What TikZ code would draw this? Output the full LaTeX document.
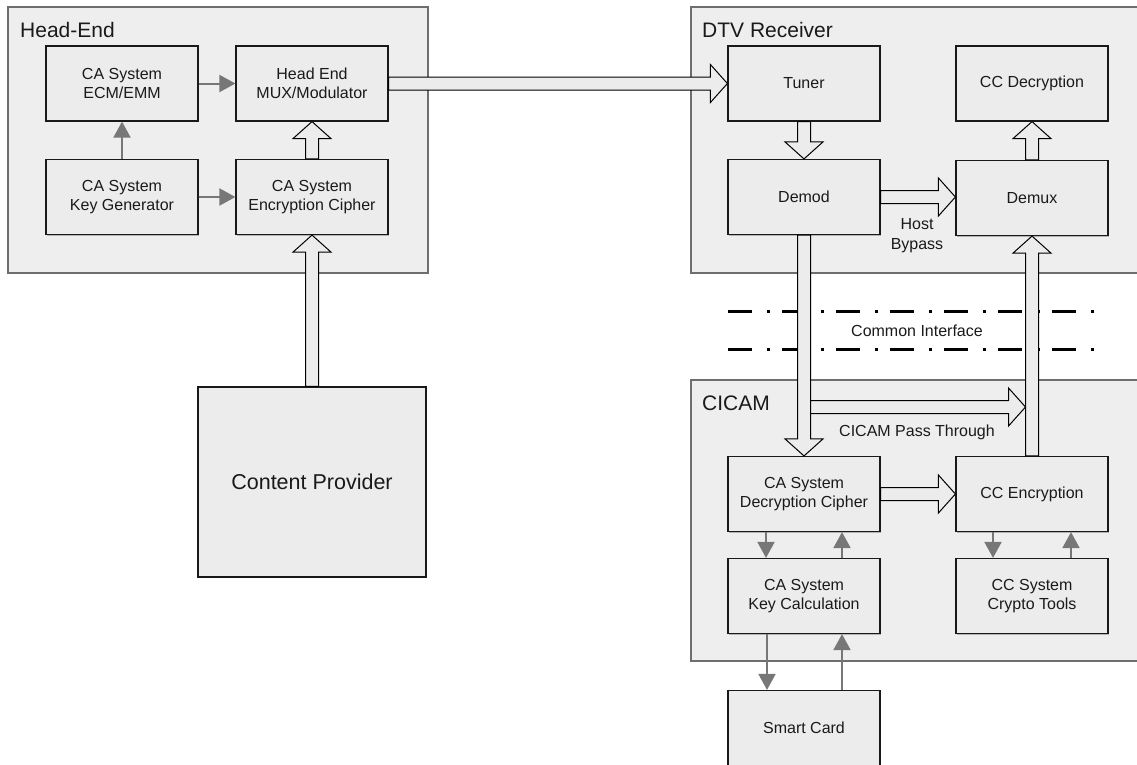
\documentclass[tikz,border=0pt]{standalone}
\usepackage{fontspec}
\setmainfont{Liberation Sans}
\usetikzlibrary{calc,arrows.meta,shadows}
\definecolor{boxfill}{HTML}{ECECEC}
\definecolor{contfill}{HTML}{EEEEEE}
\definecolor{contline}{HTML}{6E6E6E}
\definecolor{garr}{HTML}{777777}
\definecolor{txt}{HTML}{1A1A1A}
\tikzset{
  container/.style={draw=contline, fill=contfill, line width=1.4pt},
  blockbox/.style={draw=black!90, fill=boxfill, line width=1.2pt, minimum width=152pt, minimum height=75pt,
    align=center, text=txt, font=\fontsize{16}{19}\selectfont, inner sep=0pt,
    drop shadow={shadow xshift=1pt, shadow yshift=-1.2pt, fill=black!45, opacity=0.6}},
  titletext/.style={anchor=base west, font=\fontsize{21}{24}\selectfont, text=txt, inner sep=0pt},
  lbl/.style={align=center, text=txt, font=\fontsize{16}{20}\selectfont, inner sep=0pt},
  grayarrow/.style={draw=garr, line width=2pt, -{Triangle[width=17pt,length=16pt]}},
  hollow/.style={draw=black, fill=boxfill, line width=1pt, line join=miter},
  ciline/.style={draw=black, line width=3pt, dash pattern=on 24pt off 14.5pt on 3pt off 12.5pt}
}
\newcommand{\hollowarr}[2]{%
  \coordinate (hA) at (#1); \coordinate (hB) at (#2);
  \coordinate (hH) at ($(hB)!17pt!(hA)$);
  \draw[hollow] ($(hA)!6.5pt!-90:(hB)$) -- ($(hH)!6.5pt!90:(hA)$) -- ($(hH)!19pt!90:(hA)$) -- (hB)
    -- ($(hH)!19pt!-90:(hA)$) -- ($(hH)!6.5pt!-90:(hA)$) -- ($(hA)!6.5pt!90:(hB)$) -- cycle;}
\begin{document}
\begin{tikzpicture}[x=1pt,y=-1pt]
\useasboundingbox (0,0) rectangle (1137,764);
\fill[white] (0,0) rectangle (1137,764);
% containers
\draw[container] (8,7) rectangle (428,273);
\draw[container] (1150,7) -- (691,7) -- (691,273) -- (1150,273);
\draw[container] (1150,380) -- (691,380) -- (691,661) -- (1150,661);
\node[titletext] (thead) at (20,37) {Head-End};
\node[titletext] (tdtv) at (702,37) {DTV Receiver};
\node[titletext] (tcicam) at (702,410) {CICAM};
% common interface
\coordinate (ci1a) at (728,311); \coordinate (ci1b) at (1100,311);
\coordinate (ci2a) at (728,349); \coordinate (ci2b) at (1100,349);
\draw[ciline] (ci1a) -- (ci1b);
\draw[ciline] (ci2a) -- (ci2b);
\node[lbl] (cilbl) at (917,331) {Common Interface};
% blocks
\node[blockbox] (ecm) at (122,83.5) {CA System\\ECM/EMM};
\node[blockbox] (mux) at (312,83.5) {Head End\\MUX/Modulator};
\node[blockbox] (keygen) at (122,197) {CA System\\Key Generator};
\node[blockbox] (enc) at (312,197) {CA System\\Encryption Cipher};
\node[blockbox, minimum width=228pt, minimum height=190pt, font=\fontsize{21.5}{24}\selectfont] (cp) at (312,482) {Content Provider};
\node[blockbox] (tuner) at (804,83.5) {Tuner};
\node[blockbox] (ccdec) at (1032,83.5) {CC Decryption};
\node[blockbox] (demod) at (804,197) {Demod};
\node[blockbox] (demux) at (1032,198) {Demux};
\node[blockbox] (dec) at (804,494) {CA System\\Decryption Cipher};
\node[blockbox] (ccenc) at (1032,494) {CC Encryption};
\node[blockbox] (keycalc) at (804,596) {CA System\\Key Calculation};
\node[blockbox] (crypto) at (1032,596) {CC System\\Crypto Tools};
\node[blockbox] (smart) at (804,728) {Smart Card};
% gray arrows
\draw[grayarrow] (ecm) -- (mux);
\draw[grayarrow] (keygen) -- (ecm);
\draw[grayarrow] (keygen) -- (enc);
\draw[grayarrow] ([xshift=-38pt]dec.south) -- ([xshift=-38pt]keycalc.north);
\draw[grayarrow] ([xshift=38pt]keycalc.north) -- ([xshift=38pt]dec.south);
\draw[grayarrow] ([xshift=-39pt]ccenc.south) -- ([xshift=-39pt]crypto.north);
\draw[grayarrow] ([xshift=39pt]crypto.north) -- ([xshift=39pt]ccenc.south);
\draw[grayarrow] ([xshift=-37pt]keycalc.south) -- ([xshift=-37pt]smart.north);
\draw[grayarrow] ([xshift=38pt]smart.north) -- ([xshift=38pt]keycalc.south);
% hollow arrows
\hollowarr{cp.north}{enc.south}
\hollowarr{enc.north}{mux.south}
\hollowarr{mux.east}{tuner.west}
\hollowarr{tuner.south}{demod.north}
\coordinate (dmE) at (demod.east |- 0,197);
\coordinate (dxW) at (demux.west |- 0,197);
\hollowarr{dmE}{dxW}
\hollowarr{demux.north}{ccdec.south}
\hollowarr{demod.south}{dec.north}
\hollowarr{ccenc.north}{demux.south}
\coordinate (ptA) at ([xshift=6.5pt]demod.south |- 0,407);
\coordinate (ptB) at ([xshift=-6.5pt]ccenc.north |- 0,407);
\hollowarr{ptA}{ptB}
\hollowarr{dec.east}{ccenc.west}
\node[lbl] (hostbypass) at (917,236) {Host\\Bypass};
\node[lbl] (passthrough) at (917,432) {CICAM Pass Through};
\end{tikzpicture}
\end{document}
